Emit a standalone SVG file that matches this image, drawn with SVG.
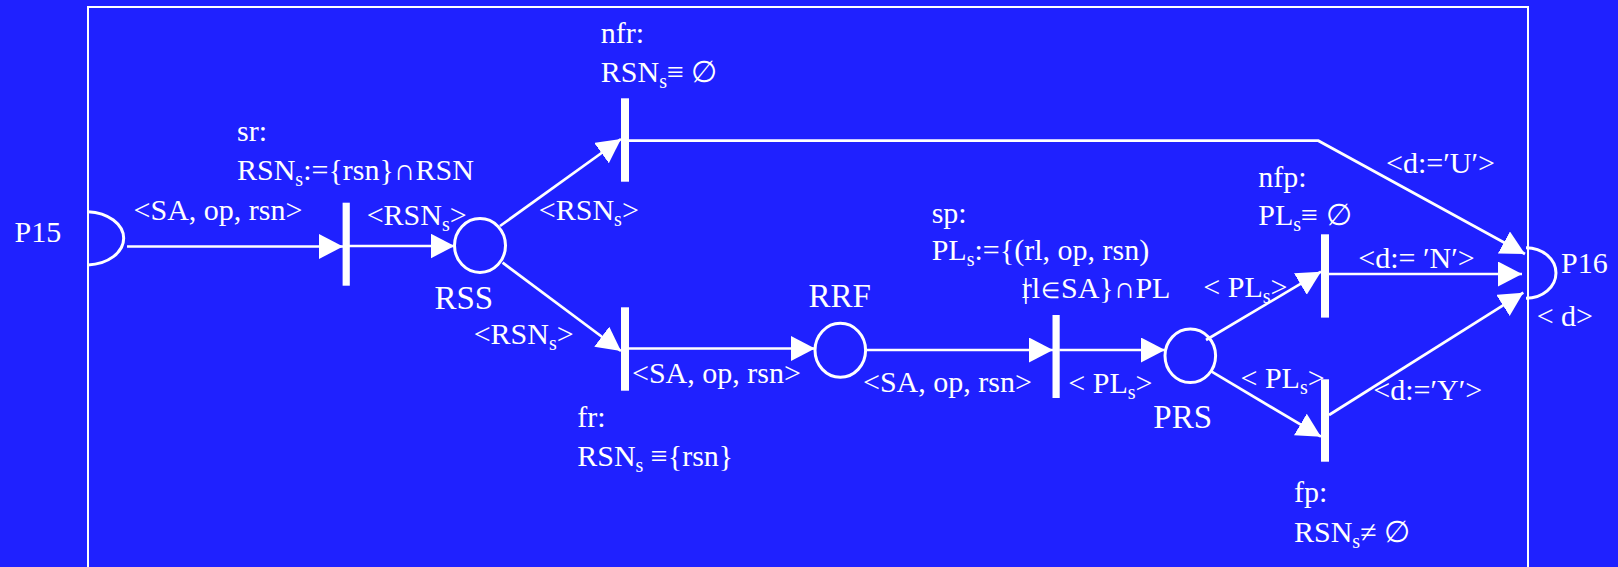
<svg xmlns="http://www.w3.org/2000/svg" width="1618" height="567" viewBox="0 0 1618 567">
<style>
text{font-family:"Liberation Serif","Times New Roman",serif;fill:#fff;font-size:30px}
.pl{font-size:33px}
.sub{font-size:20px}
.ln{stroke:#fff;stroke-width:2.7;fill:none}
.bar{fill:#fff}
.place{fill:none;stroke:#fff;stroke-width:3}
</style>
<defs>
<marker id="ah" markerUnits="userSpaceOnUse" markerWidth="26" markerHeight="26" refX="24" refY="12.5" orient="auto" viewBox="0 0 26 26">
<path d="M0,0 L24,12.5 L0,25 z" fill="#fff"/>
</marker>
</defs>
<rect x="0" y="0" width="1618" height="567" fill="#1f21ff"/>
<rect x="88" y="7" width="1440" height="620" fill="none" stroke="#fff" stroke-width="2"/>

<g id="connectors">
<line class="ln" x1="127" y1="246.5" x2="343" y2="246.5" marker-end="url(#ah)"/>
<line class="ln" x1="349" y1="246" x2="454.5" y2="246" marker-end="url(#ah)"/>
<line class="ln" x1="500" y1="226" x2="621" y2="139" marker-end="url(#ah)"/>
<line class="ln" x1="502.6" y1="262.7" x2="621" y2="351" marker-end="url(#ah)"/>
<polyline class="ln" points="629,140.7 1318.3,140.7 1525,254" marker-end="url(#ah)"/>
<line class="ln" x1="629" y1="348.5" x2="815" y2="348.5" marker-end="url(#ah)"/>
<line class="ln" x1="865.6" y1="350" x2="1053" y2="350" marker-end="url(#ah)"/>
<line class="ln" x1="1059.3" y1="350" x2="1165" y2="350" marker-end="url(#ah)"/>
<line class="ln" x1="1206" y1="340" x2="1321" y2="271.7" marker-end="url(#ah)"/>
<line class="ln" x1="1211.7" y1="371.7" x2="1321" y2="436.7" marker-end="url(#ah)"/>
<line class="ln" x1="1329" y1="274" x2="1522" y2="274" marker-end="url(#ah)"/>
<line class="ln" x1="1329" y1="415" x2="1523.3" y2="292.7" marker-end="url(#ah)"/>
</g>

<g id="P15">
<path class="place" d="M88,211.7 A38,26.7 0 0 1 88,265"/>
<text x="14.5" y="242.3">P15</text>
</g>

<g id="P16">
<path class="place" d="M1526,247.7 A30,25.3 0 0 1 1526,298.3"/>
<text x="1561" y="273.3">P16</text>
<text x="1536.7" y="325.7">&lt; d&gt;</text>
</g>

<g id="sr">
<rect class="bar" x="342.6" y="202.7" width="7.2" height="83"/>
<text x="237" y="141">sr:</text>
<text x="237" y="180">RSN<tspan class="sub" dy="6">s</tspan><tspan dy="-6">:={rsn}∩RSN</tspan></text>
</g>

<g id="RSS">
<ellipse class="place" cx="480" cy="245.5" rx="25.5" ry="27"/>
<text class="pl" x="434.4" y="309.3">RSS</text>
</g>

<g id="nfr">
<rect class="bar" x="621" y="98.3" width="8" height="83.4"/>
<text x="600.8" y="42.7">nfr:</text>
<text x="600.8" y="81.7">RSN<tspan class="sub" dy="6">s</tspan><tspan dy="-6">≡ ∅</tspan></text>
</g>

<g id="fr">
<rect class="bar" x="621" y="307.3" width="8" height="83.4"/>
<text x="577.2" y="426.7">fr:</text>
<text x="577.2" y="465.7">RSN<tspan class="sub" dy="6">s</tspan><tspan dy="-6"> ≡{rsn}</tspan></text>
</g>

<g id="RRF">
<ellipse class="place" cx="840.3" cy="350.3" rx="25.3" ry="27"/>
<text class="pl" x="808.5" y="306.7">RRF</text>
</g>

<g id="sp">
<rect class="bar" x="1052.5" y="315" width="7.2" height="83"/>
<text x="931.7" y="223.3">sp:</text>
<text x="931.7" y="260">PL<tspan class="sub" dy="6">s</tspan><tspan dy="-6">:={(rl, op, rsn)</tspan></text>
<text x="1021.7" y="298.3">|<tspan dx="-7">rl</tspan><tspan font-size="22" dx="1">∈</tspan><tspan dx="1">SA}∩PL</tspan></text>
</g>

<g id="PRS">
<ellipse class="place" cx="1190.3" cy="355.8" rx="25.3" ry="26.8"/>
<text class="pl" x="1153.3" y="428.3">PRS</text>
</g>

<g id="nfp">
<rect class="bar" x="1321" y="234.3" width="8" height="83.3"/>
<text x="1258.3" y="186.7">nfp:</text>
<text x="1258.3" y="224.5">PL<tspan class="sub" dy="6">s</tspan><tspan dy="-6">≡ ∅</tspan></text>
</g>

<g id="fp">
<rect class="bar" x="1321" y="379.3" width="8" height="82.4"/>
<text x="1294" y="501.7">fp:</text>
<text x="1294" y="541.7">RSN<tspan class="sub" dy="6">s</tspan><tspan dy="-6">≠ ∅</tspan></text>
</g>

<g id="labels">
<text x="133.6" y="220">&lt;SA, op, rsn&gt;</text>
<text x="366.7" y="225">&lt;RSN<tspan class="sub" dy="6">s</tspan><tspan dy="-6">&gt;</tspan></text>
<text x="538.8" y="220">&lt;RSN<tspan class="sub" dy="6">s</tspan><tspan dy="-6">&gt;</tspan></text>
<text x="473.7" y="344.3">&lt;RSN<tspan class="sub" dy="6">s</tspan><tspan dy="-6">&gt;</tspan></text>
<text x="632" y="383.3">&lt;SA, op, rsn&gt;</text>
<text x="863" y="391.7">&lt;SA, op, rsn&gt;</text>
<text x="1068.3" y="393.3">&lt; PL<tspan class="sub" dy="6">s</tspan><tspan dy="-6">&gt;</tspan></text>
<text x="1203.3" y="296.7">&lt; PL<tspan class="sub" dy="6">s</tspan><tspan dy="-6">&gt;</tspan></text>
<text x="1240.5" y="387.5">&lt; PL<tspan class="sub" dy="6">s</tspan><tspan dy="-6">&gt;</tspan></text>
<text x="1386" y="173.3">&lt;d:=′U′&gt;</text>
<text x="1358.3" y="268.3">&lt;d:= ′N′&gt;</text>
<text x="1373.3" y="400">&lt;d:=′Y′&gt;</text>
</g>
</svg>
